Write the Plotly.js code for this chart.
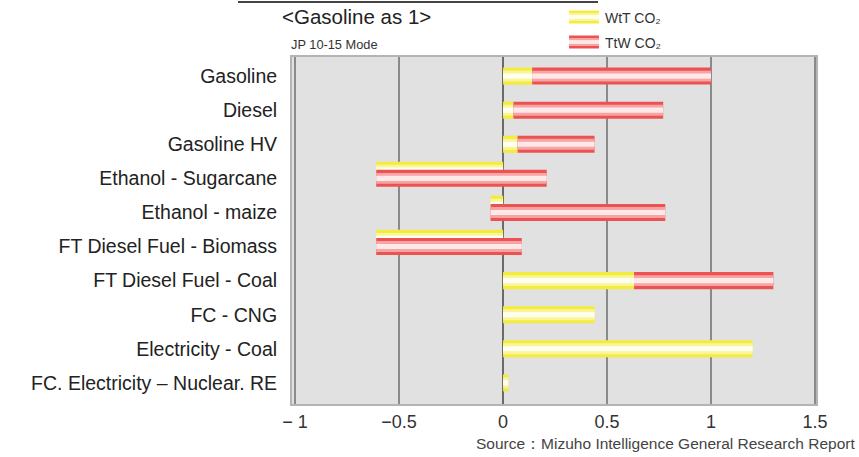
<!DOCTYPE html>
<html>
<head>
<meta charset="utf-8">
<script src="https://cdn.plot.ly/plotly-3.0.1.min.js"></script>
<style>html,body{margin:0;padding:0;background:#fff;}#chart{width:859px;height:457px;}</style>
</head>
<body>
<div id="chart"></div>
<script>
// ---- data ----
var categories = ["Gasoline", "Diesel", "Gasoline HV", "Ethanol - Sugarcane", "Ethanol - maize",
  "FT Diesel Fuel - Biomass", "FT Diesel Fuel - Coal", "FC - CNG", "Electricity - Coal",
  "FC. Electricity – Nuclear. RE"];
var wttCO2 = [0.14, 0.05, 0.07, -0.61, -0.06, -0.61, 0.63, 0.44, 1.2, 0.025];
var ttwCO2 = [0.86, 0.72, 0.37, 0.82, 0.84, 0.70, 0.67, 0, 0, 0];
var xTickVals = [-1, -0.5, 0, 0.5, 1, 1.5];
var xTickText = ["\u2212 1", "\u22120.5", "0", "0.5", "1", "1.5"];
var seriesNames = ["WtT CO\u2082", "TtW CO\u2082"];

// ---- styling ----
var FONT = "Liberation Sans, Arial, sans-serif";
var yellow = ["#f4ec3c", "#f9f59a", "#fffff0"];
var red = ["#ec5252", "#f7a4a4", "#ffe8e8"];
var layerWidths = [0.5, 0.32, 0.15];

var traces = [];
function addLayers(colors, xs, bases, offsetsFn, name) {
  for (var k = 0; k < 3; k++) {
    var w = layerWidths[k];
    traces.push({
      type: "bar", orientation: "h", y: categories, x: xs, base: bases,
      width: w,
      offset: categories.map(function (c, i) { return offsetsFn(i) + (0.5 - w) / 2; }),
      marker: {color: colors[k], line: {width: 0}},
      name: name, showlegend: false, hoverinfo: "x+y"
    });
  }
}
// WtT bars (shifted slightly up when negative, as in the original)
addLayers(yellow, wttCO2, categories.map(function () { return 0; }),
  function (i) { return wttCO2[i] < 0 ? -0.49 : -0.25; }, seriesNames[0]);
// TtW bars start where WtT ends
addLayers(red, ttwCO2, wttCO2.slice(), function () { return -0.25; }, seriesNames[1]);

// plot-area geometry helpers (paper coords)
var L = 292, R = 816, T = 57, B = 404, W = 859, H = 457;
function px(x) { return (x - L) / (R - L); }
function py(y) { return (B - y) / (B - T); }

var shapes = [];
function swatch(colors, x0, x1, yc, h) {
  var ws = [1, 0.62, 0.3];
  for (var k = 0; k < 3; k++) {
    var hh = h * ws[k] / 2;
    shapes.push({type: "rect", xref: "paper", yref: "paper",
      x0: px(x0), x1: px(x1), y0: py(yc + hh), y1: py(yc - hh),
      fillcolor: colors[k], line: {width: 0}});
  }
}
swatch(yellow, 569, 599, 17, 13);
swatch(red, 569, 599, 42, 13);
// underline of the cut-off title at the very top
shapes.push({type: "line", xref: "paper", yref: "paper", x0: px(238), x1: px(598),
  y0: py(2), y1: py(2), line: {color: "#444", width: 2}});

var annotations = [
  {text: "&lt;Gasoline as 1&gt;", x: px(280), y: py(17), xanchor: "left", yanchor: "middle",
   font: {size: 20.5, color: "#222", family: FONT}},
  {text: "JP 10-15 Mode", x: px(289), y: py(44), xanchor: "left", yanchor: "middle",
   font: {size: 12.8, color: "#333", family: FONT}},
  {text: seriesNames[0], x: px(603), y: py(18), xanchor: "left", yanchor: "middle",
   font: {size: 14, color: "#333", family: FONT}},
  {text: seriesNames[1], x: px(603), y: py(43), xanchor: "left", yanchor: "middle",
   font: {size: 14, color: "#333", family: FONT}},
  {text: "Source\uff1aMizuho Intelligence General Research Report", x: px(857), y: py(443),
   xanchor: "right", yanchor: "middle", font: {size: 15.5, color: "#444", family: FONT}}
];
annotations.forEach(function (a) { a.xref = "paper"; a.yref = "paper"; a.showarrow = false; });

var layout = {
  width: W, height: H,
  margin: {l: L, r: W - R, t: T, b: H - B, pad: 0},
  paper_bgcolor: "#ffffff", plot_bgcolor: "#e1e1e1",
  barmode: "overlay", showlegend: false,
  font: {family: FONT, color: "#333"},
  xaxis: {range: [-1.015, 1.505], tickvals: xTickVals, ticktext: xTickText,
    showgrid: true, gridcolor: "#8a8a8a", gridwidth: 1.3,
    zeroline: true, zerolinecolor: "#6a6a6a", zerolinewidth: 2,
    showline: true, mirror: true, linecolor: "#b4b4b4", linewidth: 2,
    ticks: "", tickfont: {size: 18, color: "#333", family: FONT}, fixedrange: true},
  yaxis: {type: "category", range: [9.62, -0.56], autorange: false,
    showgrid: false, zeroline: false,
    showline: true, mirror: true, linecolor: "#b4b4b4", linewidth: 2,
    ticks: "", ticklabelstandoff: 9, tickfont: {size: 19.5, color: "#222", family: FONT}, fixedrange: true},
  shapes: shapes, annotations: annotations
};

Plotly.newPlot("chart", traces, layout, {displayModeBar: false, staticPlot: true});
</script>
</body>
</html>
